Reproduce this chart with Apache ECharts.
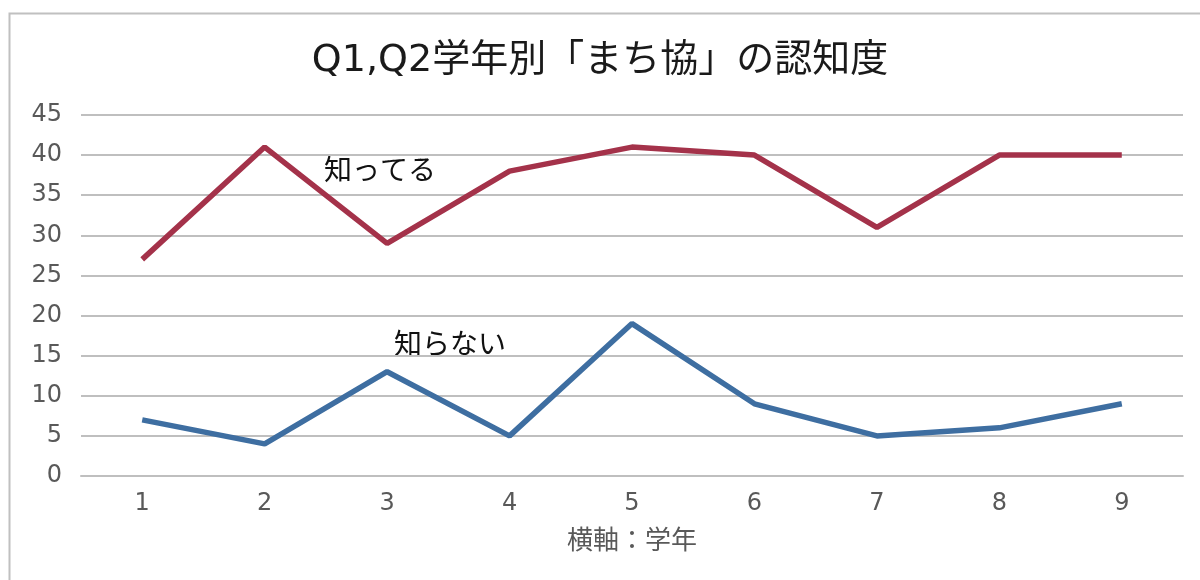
<!DOCTYPE html>
<html>
<head>
<meta charset="utf-8">
<script src="https://cdn.jsdelivr.net/npm/echarts@6/dist/echarts.min.js"></script>
<style>
  html, body { margin: 0; padding: 0; background: #fff; }
  #chart { width: 1200px; height: 580px; }
</style>
</head>
<body>
<div id="chart"></div>
<script>
// data
const grades = ['1', '2', '3', '4', '5', '6', '7', '8', '9'];
const knows = [27, 41, 29, 38, 41, 40, 31, 40, 40];
const doesNotKnow = [7, 4, 13, 5, 19, 9, 5, 6, 9];

const font = '"Noto Sans CJK JP", "Noto Sans", sans-serif';
const numFont = '"DejaVu Sans", "Noto Sans CJK JP", sans-serif';
const gray = '#595959';

const chart = echarts.init(document.getElementById('chart'), null, { renderer: 'canvas' });

chart.setOption({
  animation: false,
  textStyle: { fontFamily: font },
  title: {
    text: 'Q1,Q2学年別「まち協」の認知度',
    left: 'center',
    top: 37,
    textStyle: { fontSize: 38, fontWeight: 'normal', color: '#1a1a1a', fontFamily: numFont }
  },
  grid: { left: 81, right: 17, top: 115, bottom: 104 },
  xAxis: {
    type: 'category',
    data: grades,
    boundaryGap: true,
    name: '横軸：学年',
    nameLocation: 'middle',
    nameGap: 50,
    nameTextStyle: { fontSize: 26, color: gray, fontFamily: font },
    axisLine: { lineStyle: { color: '#BFBFBF', width: 2 } },
    axisTick: { show: false },
    axisLabel: { fontSize: 24, color: gray, margin: 16, fontFamily: numFont }
  },
  yAxis: {
    type: 'value',
    min: 0,
    max: 45,
    interval: 5,
    axisLine: { show: false },
    axisTick: { show: false },
    axisLabel: { fontSize: 24, color: gray, margin: 19, fontFamily: numFont, padding: [5, 0, 0, 0] },
    splitLine: { lineStyle: { color: '#BFBFBF', width: 2 } }
  },
  series: [
    {
      name: '知ってる',
      type: 'line',
      data: knows,
      showSymbol: false,
      lineStyle: { color: '#A4324A', width: 5.5 },
      itemStyle: { color: '#A4324A' }
    },
    {
      name: '知らない',
      type: 'line',
      data: doesNotKnow,
      showSymbol: false,
      lineStyle: { color: '#3E6EA1', width: 5.5 },
      itemStyle: { color: '#3E6EA1' }
    }
  ],
  graphic: [
    {
      type: 'rect',
      shape: { x: 9.5, y: 13.5, width: 1300, height: 700 },
      style: { fill: 'none', stroke: '#C0C0C0', lineWidth: 2 },
      silent: true
    },
    {
      type: 'text',
      left: 324,
      top: 155,
      style: { text: '知ってる', fill: '#111', font: '28px ' + font }
    },
    {
      type: 'text',
      left: 394,
      top: 329,
      style: { text: '知らない', fill: '#111', font: '28px ' + font }
    }
  ]
});
</script>
</body>
</html>
